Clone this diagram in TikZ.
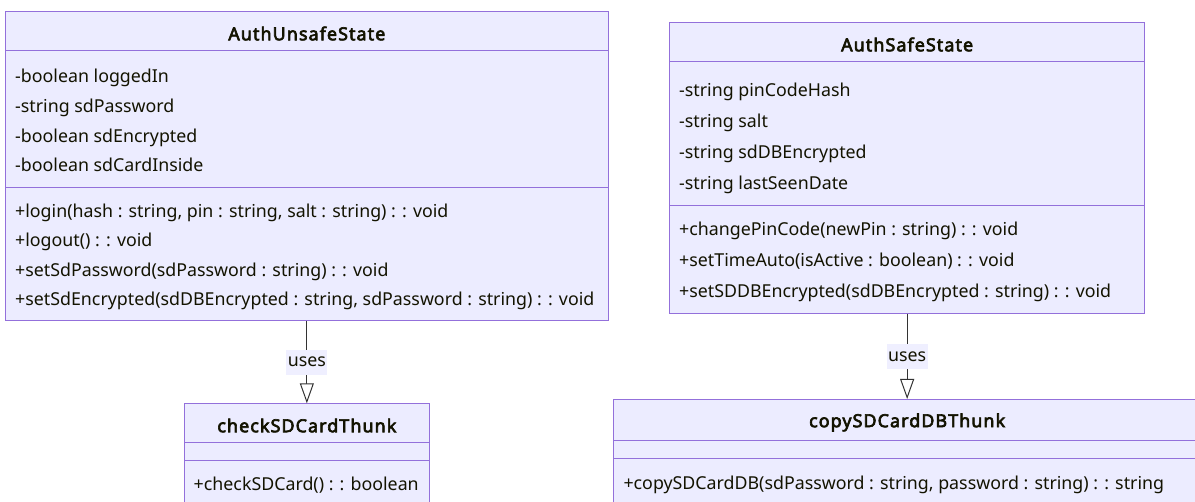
\documentclass[tikz,border=0pt]{standalone}
\usepackage{fontspec}
\setmainfont{Noto Sans}
\newfontfamily\titlefont{Noto Sans}[AutoFakeBold=3.5, LetterSpace=6]
\usepackage{xcolor}
\usepackage{tikz}
\usetikzlibrary{arrows.meta, positioning}

\definecolor{classfill}{HTML}{ECECFF}
\definecolor{classdraw}{HTML}{9370DB}
\definecolor{classtext}{HTML}{131300}
\definecolor{edgecol}{HTML}{333333}

\tikzset{
  classbox/.style={draw=classdraw, fill=classfill, line width=1pt, inner sep=0pt, anchor=north west},
  classsep/.style={draw=classdraw, line width=1pt},
  classname/.style={font=\titlefont\bfseries\fontsize{17.9}{21}\selectfont, text=classtext, inner sep=0pt, yshift=-2.5pt},
  member/.style={anchor=west, font=\fontsize{17.8}{21}\selectfont, text=classtext, inner sep=0pt, text height=11pt, text depth=3pt, yshift=-3pt},
  uses/.style={draw=edgecol, line width=1pt, -{Triangle[open, length=20pt, width=14pt, fill=white]}},
  useslabel/.style={fill=classfill!85!white, text=classtext, font=\fontsize{17.8}{21}\selectfont, inner xsep=1.5pt, inner ysep=0pt, minimum height=25pt}
}

\begin{document}
\begin{tikzpicture}[x=1pt, y=-1pt]
  \useasboundingbox (0,0) rectangle (1195,502);

  % class boxes
  \node[classbox, minimum width=602.7pt, minimum height=309pt] (unsafe) at (5,11) {};
  \node[classbox, minimum width=474.7pt, minimum height=291pt] (safe) at (669.3,21.7) {};
  \node[classbox, minimum width=244.7pt, minimum height=103pt] (check) at (184,403.3) {};
  \node[classbox, minimum width=586.7pt, minimum height=107pt] (copy) at (613.3,399) {};

  % compartment lines
  \draw[classsep] (unsafe.west |- 0,50.7) -- (unsafe.east |- 0,50.7);
  \draw[classsep] (unsafe.west |- 0,188) -- (unsafe.east |- 0,188);
  \draw[classsep] (safe.west |- 0,62) -- (safe.east |- 0,62);
  \draw[classsep] (safe.west |- 0,206) -- (safe.east |- 0,206);
  \draw[classsep] (check.west |- 0,442.3) -- (check.east |- 0,442.3);
  \draw[classsep] (check.west |- 0,460.7) -- (check.east |- 0,460.7);
  \draw[classsep] (copy.west |- 0,440.3) -- (copy.east |- 0,440.3);
  \draw[classsep] (copy.west |- 0,458.7) -- (copy.east |- 0,458.7);

  % AuthUnsafeState
  \node[classname] (unsafeName) at (unsafe.north |- 0,31) {AuthUnsafeState};
  \node[member] (unsafeLogged) at (15,76) {-boolean loggedIn};
  \node[member] (unsafeSdPass) at (15,106) {-string sdPassword};
  \node[member] (unsafeSdEnc) at (15,136) {-boolean sdEncrypted};
  \node[member] (unsafeSdCard) at (15,165) {-boolean sdCardInside};
  \node[member] (unsafeLogin) at (15,211) {+login(hash : string, pin : string, salt : string) : : void};
  \node[member] (unsafeLogout) at (15,240) {+logout() : : void};
  \node[member] (unsafeSetPass) at (15,270) {+setSdPassword(sdPassword : string) : : void};
  \node[member] (unsafeSetEnc) at (15,299) {+setSdEncrypted(sdDBEncrypted : string, sdPassword : string) : : void};

  % AuthSafeState
  \node[classname] (safeName) at (safe.north |- 0,42) {AuthSafeState};
  \node[member] (safePinHash) at (679,90) {-string pinCodeHash};
  \node[member] (safeSalt) at (679,121) {-string salt};
  \node[member] (safeDBEnc) at (679,152) {-string sdDBEncrypted};
  \node[member] (safeLastSeen) at (679,183) {-string lastSeenDate};
  \node[member] (safeChangePin) at (679,229) {+changePinCode(newPin : string) : : void};
  \node[member] (safeTimeAuto) at (679,260) {+setTimeAuto(isActive : boolean) : : void};
  \node[member] (safeSetDB) at (679,291) {+setSDDBEncrypted(sdDBEncrypted : string) : : void};

  % thunks
  \node[classname] (checkName) at (check.north |- 0,423) {checkSDCardThunk};
  \node[member] (checkCall) at (193.5,484) {+checkSDCard() : : boolean};
  \node[classname] (copyName) at (copy.north |- 0,420) {copySDCardDBThunk};
  \node[member] (copyCall) at (623.3,483) {+copySDCardDB(sdPassword : string, password : string) : : string};

  % dependencies
  \draw[uses] (unsafe) -- node[useslabel] {uses} (check);
  \draw[uses] (safe) -- node[useslabel] {uses} (copy);
\end{tikzpicture}
\end{document}
